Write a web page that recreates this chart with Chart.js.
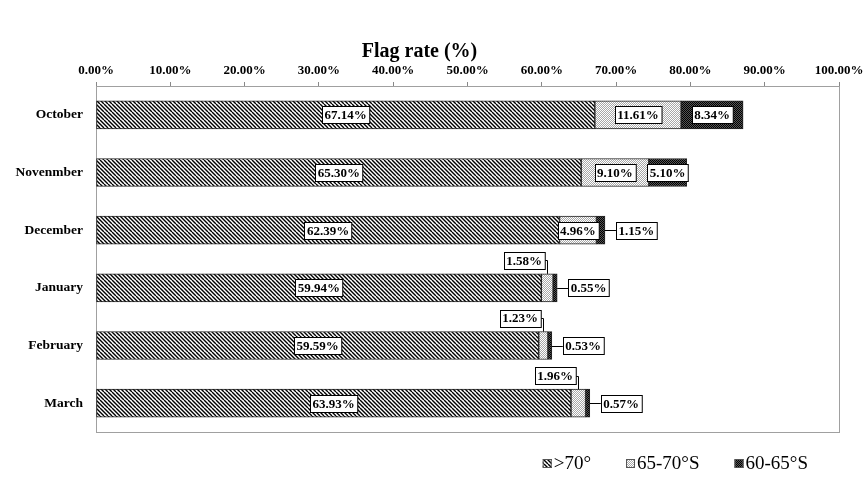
<!DOCTYPE html>
<html>
<head>
<meta charset="utf-8">
<script src="https://cdn.jsdelivr.net/npm/chart.js@4"></script>
<style>
  html, body { margin: 0; padding: 0; background: #fff; }
  #wrap { width: 864px; height: 481px; }
</style>
</head>
<body>
<div id="wrap"><canvas id="flagChart" width="864" height="481"></canvas></div>
<script>
// data
var months = ['October', 'Novenmber', 'December', 'January', 'February', 'March'];
var seriesNames = ['>70°', '65-70°S', '60-65°S'];
var over70 = [67.14, 65.30, 62.39, 59.94, 59.59, 63.93];
var band65to70 = [11.61, 9.10, 4.96, 1.58, 1.23, 1.96];
var band60to65 = [8.34, 5.10, 1.15, 0.55, 0.53, 0.57];
var xTickStep = 10;

var serif = '"Liberation Serif", "Times New Roman", serif';
var canvas = document.getElementById('flagChart');
var ctx = canvas.getContext('2d');

// fill patterns like the excel original
function makePattern(kind) {
    var c = document.createElement('canvas');
    var p = c.getContext('2d');
    if (kind === 'hatch') {
        c.width = 8; c.height = 8;
        p.fillStyle = '#fff';
        p.fillRect(0, 0, 8, 8);
        p.strokeStyle = '#000';
        p.lineWidth = 1.4;
        for (var x = -8; x <= 8; x += 4) {
            p.beginPath();
            p.moveTo(x, 0);
            p.lineTo(x + 8, 8);
            p.stroke();
        }
    } else {
        var a = kind === 'light' ? '#ffffff' : '#000000';
        var b = kind === 'light' ? '#a8a8a8' : '#555555';
        c.width = 2; c.height = 2;
        p.fillStyle = a; p.fillRect(0, 0, 2, 2);
        p.fillStyle = b; p.fillRect(1, 0, 1, 1); p.fillRect(0, 1, 1, 1);
    }
    return ctx.createPattern(c, 'repeat');
}

var fills = [makePattern('hatch'), makePattern('light'), makePattern('dark')];

// grey frame round the plot area
var plotFrame = {
    id: 'plotFrame',
    beforeDatasetsDraw: function(chart) {
        var a = chart.chartArea;
        var c = chart.ctx;
        c.save();
        c.strokeStyle = '#a0a0a0';
        c.lineWidth = 1;
        c.strokeRect(a.left + 0.5, a.top + 0.5, a.right - a.left, a.bottom - a.top);
        c.restore();
    }
};

function drawBox(c, txt, cx, cy) {
    var w = c.measureText(txt).width + 5;
    var h = 17;
    c.fillStyle = '#fff';
    c.fillRect(Math.round(cx - w / 2) + 0.5, Math.round(cy - h / 2) + 0.5, w, h);
    c.strokeStyle = '#000';
    c.strokeRect(Math.round(cx - w / 2) + 0.5, Math.round(cy - h / 2) + 0.5, w, h);
    c.fillStyle = '#000';
    c.fillText(txt, cx, cy + 1);
}

// value labels in white boxes, small ones pulled out with a leader line
var boxLabels = {
    id: 'boxLabels',
    afterDatasetsDraw: function(chart) {
        var c = chart.ctx;
        var last = chart.data.datasets.length - 1;
        c.save();
        c.font = 'bold 13px ' + serif;
        c.textAlign = 'center';
        c.textBaseline = 'middle';
        c.lineWidth = 1;
        chart.data.datasets.forEach(function(ds, i) {
            var meta = chart.getDatasetMeta(i);
            meta.data.forEach(function(bar, j) {
                var txt = ds.data[j].toFixed(2) + '%';
                var w = c.measureText(txt).width + 5;
                var left = Math.min(bar.x, bar.base);
                var right = Math.max(bar.x, bar.base);
                var top = bar.y - bar.height / 2;
                if (right - left > 25) {
                    drawBox(c, txt, (left + right) / 2, bar.y);
                } else if (i === last) {
                    var bx = right + 11;
                    c.strokeStyle = '#000';
                    c.beginPath();
                    c.moveTo(right, Math.round(bar.y) + 0.5);
                    c.lineTo(bx, Math.round(bar.y) + 0.5);
                    c.stroke();
                    drawBox(c, txt, bx + w / 2, bar.y);
                } else {
                    var mid = Math.round((left + right) / 2) + 0.5;
                    var cy = top - 5 - 8.5;
                    var bxr = mid - 3;
                    c.strokeStyle = '#000';
                    c.beginPath();
                    c.moveTo(bxr, Math.round(cy) + 0.5);
                    c.lineTo(mid, Math.round(cy) + 0.5);
                    c.lineTo(mid, top);
                    c.stroke();
                    drawBox(c, txt, bxr - w / 2, cy);
                }
            });
        });
        c.restore();
    }
};

// legend drawn by hand: tiny box right next to the text
var smallLegend = {
    id: 'smallLegend',
    afterDraw: function(chart) {
        var c = chart.ctx;
        var a = chart.chartArea;
        var sets = chart.data.datasets;
        c.save();
        c.font = '19px ' + serif;
        c.textBaseline = 'middle';
        c.textAlign = 'left';
        var box = 9, gap = 2, space = 35, y = 463;
        var widths = sets.map(function(ds) { return box + gap + c.measureText(ds.label).width; });
        var total = widths.reduce(function(s, v) { return s + v; }, 0) + space * (sets.length - 1);
        var x = a.right - 31 - total;
        sets.forEach(function(ds, i) {
            c.fillStyle = ds.backgroundColor;
            c.fillRect(x, y - 4, box, box);
            c.strokeStyle = '#555';
            c.strokeRect(x + 0.5, y - 3.5, box - 1, box - 1);
            c.fillStyle = '#000';
            c.fillText(ds.label, x + box + gap, y + 1);
            x += widths[i] + space;
        });
        c.restore();
    }
};

new Chart(ctx, {
    type: 'bar',
    data: {
        labels: months,
        datasets: [
            { label: seriesNames[0], data: over70, backgroundColor: fills[0] },
            { label: seriesNames[1], data: band65to70, backgroundColor: fills[1] },
            { label: seriesNames[2], data: band60to65, backgroundColor: fills[2] }
        ]
    },
    options: {
        indexAxis: 'y',
        responsive: false,
        animation: false,
        datasets: {
            bar: {
                borderColor: '#222',
                borderWidth: 1,
                borderSkipped: false,
                barThickness: 28
            }
        },
        layout: { padding: { top: 0, left: 0, right: 25, bottom: 49 } },
        plugins: {
            legend: { display: false },
            tooltip: { enabled: false },
            title: {
                display: true,
                text: 'Flag rate (%)',
                color: '#000',
                font: { family: serif, size: 20, weight: 'bold' },
                padding: { top: 40, bottom: 0 }
            }
        },
        scales: {
            x: {
                position: 'top',
                stacked: true,
                min: 0,
                max: 100,
                ticks: {
                    stepSize: xTickStep,
                    color: '#000',
                    padding: 4,
                    font: { family: serif, size: 13, weight: 'bold' },
                    callback: function(v) { return v.toFixed(2) + '%'; }
                },
                grid: { drawOnChartArea: false, drawTicks: true, tickLength: 4, color: '#888' },
                border: { display: true, color: '#888' },
                afterFit: function(s) {
                    s.height = 22;
                    s.paddingRight = 0;
                    s.paddingLeft = 0;
                }
            },
            y: {
                stacked: true,
                ticks: {
                    color: '#000',
                    padding: 13,
                    font: { family: serif, size: 13.5, weight: 'bold' }
                },
                grid: { display: false, drawTicks: false },
                border: { display: true, color: '#888' },
                afterFit: function(s) { s.width = 96; }
            }
        }
    },
    plugins: [plotFrame, boxLabels, smallLegend]
});
</script>
</body>
</html>
